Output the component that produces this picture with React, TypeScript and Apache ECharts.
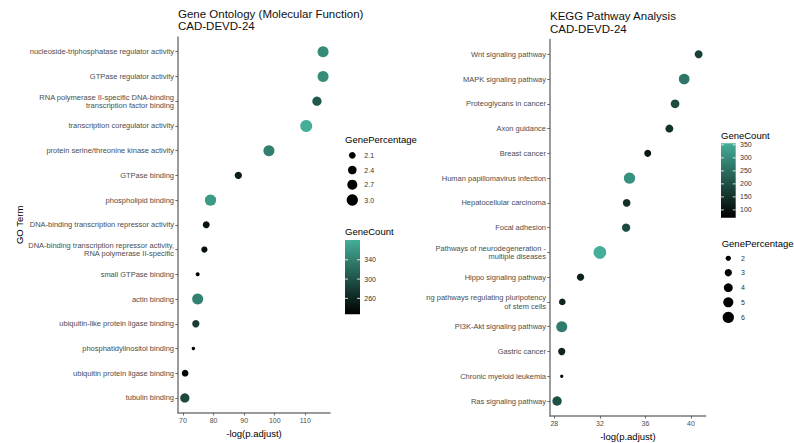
import React, { useEffect, useRef } from "react";
import * as echarts from "echarts";

// ---------- Gene Ontology (Molecular Function) ----------
const goTerms = [
  "nucleoside-triphosphatase regulator activity",
  "GTPase regulator activity",
  "RNA polymerase II-specific DNA-binding\ntranscription factor binding",
  "transcription coregulator activity",
  "protein serine/threonine kinase activity",
  "GTPase binding",
  "phospholipid binding",
  "DNA-binding transcription repressor activity",
  "DNA-binding transcription repressor activity,\nRNA polymerase II-specific",
  "small GTPase binding",
  "actin binding",
  "ubiquitin-like protein ligase binding",
  "phosphatidylinositol binding",
  "ubiquitin protein ligase binding",
  "tubulin binding",
];
const goLogP = [115.8, 115.8, 113.8, 110.3, 98.1, 88.1, 79.0, 77.6, 77.0, 74.8, 74.8, 74.2, 73.4, 70.7, 70.6];
const goCount = [350, 350, 305, 381, 340, 255, 363, 245, 240, 227, 341, 280, 228, 236, 292];
const goPct = [2.93, 2.93, 2.55, 3.18, 2.93, 2.19, 3.0, 2.14, 2.04, 1.79, 2.93, 2.19, 1.74, 2.1, 2.55];
const goXTicks = [70, 80, 90, 100, 110];
const goSizeBreaks = [2.1, 2.4, 2.7, 3.0];
const goCountTicks = [260, 300, 340];

// ---------- KEGG ----------
const keggTerms = [
  "Wnt signaling pathway",
  "MAPK signaling pathway",
  "Proteoglycans in cancer",
  "Axon guidance",
  "Breast cancer",
  "Human papillomavirus infection",
  "Hepatocellular carcinoma",
  "Focal adhesion",
  "Pathways of neurodegeneration -\nmultiple diseases",
  "Hippo signaling pathway",
  "Signaling pathways regulating pluripotency\nof stem cells",
  "PI3K-Akt signaling pathway",
  "Gastric cancer",
  "Chronic myeloid leukemia",
  "Ras signaling pathway",
];
const keggLogP = [40.67, 39.4, 38.6, 38.1, 36.2, 34.6, 34.35, 34.3, 32.0, 30.3, 28.7, 28.65, 28.65, 28.65, 28.24];
const keggCount = [175, 265, 193, 153, 105, 307, 150, 193, 356, 127, 133, 273, 130, 70, 202];
const keggPct = [3.44, 5.4, 3.9, 3.4, 2.84, 6.0, 3.2, 3.6, 7.3, 3.0, 2.65, 5.7, 3.0, 1.3, 4.4];
const keggXTicks = [28, 32, 36, 40];
const keggSizeBreaks = [2, 3, 4, 5, 6];
const keggCountTicks = [100, 150, 200, 250, 300, 350];

const FONT = '"Liberation Sans", Arial, Helvetica, sans-serif';
const LOW = "#000000";
const HIGH = "#44AE98";
const AXIS_COLOR = "#7a7a7a";
const TEXT_GREY = "#4d4d4d";

const goSize = (v: number) => Math.sqrt(Math.max(92 * v - 148.3, 6));
const keggSize = (v: number) => Math.sqrt(Math.max(25 * v - 22, 6));

function range(a: number[]) {
  return [Math.min(...a), Math.max(...a)];
}

function legendGraphics(opts: {
  sizeTitleX: number; sizeTitleY: number; sizeDotX: number; sizeLabelX: number; sizeYs: number[];
  sizeBreaks: number[]; sizeFn: (v: number) => number; sizeFmt: (v: number) => string;
  cTitleX: number; cTitleY: number; barX: number; barY: number; barW: number; barH: number;
  cMin: number; cMax: number; cTicks: number[]; cLabelX: number;
}) {
  const els: any[] = [];
  els.push({
    type: "text", x: opts.sizeTitleX, y: opts.sizeTitleY,
    style: { text: "GenePercentage", font: `9.5px ${FONT}`, fill: "#000", textVerticalAlign: "middle" },
  });
  opts.sizeBreaks.forEach((b, i) => {
    els.push({ type: "circle", shape: { cx: opts.sizeDotX, cy: opts.sizeYs[i], r: opts.sizeFn(b) / 2 }, style: { fill: "#000" } });
    els.push({
      type: "text", x: opts.sizeLabelX, y: opts.sizeYs[i],
      style: { text: opts.sizeFmt(b), font: `7px ${FONT}`, fill: "#333", textVerticalAlign: "middle" },
    });
  });
  els.push({
    type: "text", x: opts.cTitleX, y: opts.cTitleY,
    style: { text: "GeneCount", font: `9.5px ${FONT}`, fill: "#000", textVerticalAlign: "middle" },
  });
  els.push({
    type: "rect", shape: { x: opts.barX, y: opts.barY, width: opts.barW, height: opts.barH },
    style: {
      fill: new echarts.graphic.LinearGradient(0, 0, 0, 1, [
        { offset: 0, color: HIGH },
        { offset: 1, color: LOW },
      ]),
    },
  });
  opts.cTicks.forEach((t) => {
    const y = opts.barY + (opts.cMax - t) / (opts.cMax - opts.cMin) * opts.barH;
    const tl = opts.barW / 5;
    els.push({ type: "line", shape: { x1: opts.barX, y1: y, x2: opts.barX + tl, y2: y }, style: { stroke: "#fff", lineWidth: 0.8 } });
    els.push({ type: "line", shape: { x1: opts.barX + opts.barW - tl, y1: y, x2: opts.barX + opts.barW, y2: y }, style: { stroke: "#fff", lineWidth: 0.8 } });
    els.push({
      type: "text", x: opts.cLabelX, y,
      style: { text: String(t), font: `7px ${FONT}`, fill: "#333", textVerticalAlign: "middle" },
    });
  });
  return els;
}

function panelOption(p: {
  title: string; titleLeft: number; titleTop: number;
  gridLeft: number; gridTop: number; gridW: number; gridH: number;
  xMin: number; xMax: number; xTicks: number[];
  terms: string[]; xs: number[]; counts: number[]; pcts: number[];
  sizeFn: (v: number) => number; yName: string; graphic: any[];
}) {
  const [cMin, cMax] = range(p.counts);
  const idx = p.terms.map((_, i) => i);
  return {
    animation: false,
    textStyle: { fontFamily: FONT },
    title: {
      text: p.title, left: p.titleLeft, top: p.titleTop, padding: 0,
      textStyle: { fontSize: 11.5, fontWeight: "normal", color: "#111", lineHeight: 12.5, fontFamily: FONT },
    },
    grid: {
      left: p.gridLeft, top: p.gridTop, width: p.gridW, height: p.gridH,
      containLabel: false, outerBoundsMode: "none",
    },
    xAxis: {
      type: "value", min: p.xMin, max: p.xMax,
      name: "-log(p.adjust)", nameLocation: "middle", nameGap: 13,
      nameTextStyle: { fontSize: 9.5, color: "#000", fontFamily: FONT },
      axisLine: { show: true, onZero: false, lineStyle: { color: AXIS_COLOR, width: 1.5 } },
      axisTick: { show: true, length: 2.7, customValues: p.xTicks, lineStyle: { color: TEXT_GREY, width: 0.8 } },
      axisLabel: { customValues: p.xTicks, fontSize: 7, color: TEXT_GREY, margin: 4, fontFamily: FONT },
      splitLine: { show: false },
    },
    yAxis: {
      type: "value", inverse: true, min: -0.6, max: p.terms.length - 0.4,
      name: p.yName, nameLocation: "middle", nameGap: 152, nameRotate: 90,
      nameTextStyle: { fontSize: 9.5, color: "#000", fontFamily: FONT },
      axisLine: { show: true, onZero: false, lineStyle: { color: AXIS_COLOR, width: 1.5 } },
      axisTick: { show: true, length: 2.7, customValues: idx, lineStyle: { color: TEXT_GREY, width: 0.8 } },
      axisLabel: {
        customValues: idx, fontSize: 7.5, color: TEXT_GREY, margin: 4, lineHeight: 8.3, fontFamily: FONT,
        formatter: (v: number) => p.terms[Math.round(v)] ?? "",
      },
      splitLine: { show: false },
    },
    visualMap: [{
      type: "continuous", show: false, dimension: 2, seriesIndex: 0,
      min: cMin, max: cMax, inRange: { color: [LOW, HIGH] },
    }],
    series: [{
      type: "scatter",
      data: p.terms.map((_, i) => [p.xs[i], i, p.counts[i], p.pcts[i]]),
      symbolSize: (v: number[]) => p.sizeFn(v[3]),
      itemStyle: { opacity: 1 },
    }],
    graphic: p.graphic,
  };
}

export default function App() {
  const leftRef = useRef<HTMLDivElement>(null);
  const rightRef = useRef<HTMLDivElement>(null);

  useEffect(() => {
    const left = echarts.init(leftRef.current!, undefined, { renderer: "svg" });
    const right = echarts.init(rightRef.current!, undefined, { renderer: "svg" });

    const [gMin, gMax] = range(goCount);
    left.setOption(panelOption({
      title: "Gene Ontology (Molecular Function)\nCAD-DEVD-24", titleLeft: 178, titleTop: 7.5,
      gridLeft: 178, gridTop: 36.9, gridW: 152, gridH: 375.9,
      xMin: 68.37, xMax: 118.07, xTicks: goXTicks,
      terms: goTerms, xs: goLogP, counts: goCount, pcts: goPct, sizeFn: goSize, yName: "GO Term",
      graphic: legendGraphics({
        sizeTitleX: 345, sizeTitleY: 139, sizeDotX: 352.3, sizeLabelX: 364.3, sizeYs: [155.3, 170, 184.7, 200],
        sizeBreaks: goSizeBreaks, sizeFn: goSize, sizeFmt: (v) => v.toFixed(1),
        cTitleX: 345, cTitleY: 231, barX: 345, barY: 240, barW: 15, barH: 74.3,
        cMin: gMin, cMax: gMax, cTicks: goCountTicks, cLabelX: 364.3,
      }),
    }) as any);

    const OFF = 426;
    const [kMin, kMax] = range(keggCount);
    right.setOption(panelOption({
      title: "KEGG Pathway Analysis\nCAD-DEVD-24", titleLeft: 550 - OFF, titleTop: 9.8,
      gridLeft: 550 - OFF, gridTop: 39.4, gridW: 155.7, gridH: 376.5,
      xMin: 27.62, xMax: 41.29, xTicks: keggXTicks,
      terms: keggTerms, xs: keggLogP, counts: keggCount, pcts: keggPct, sizeFn: keggSize, yName: "",
      graphic: legendGraphics({
        sizeTitleX: 721.7 - OFF, sizeTitleY: 243.3, sizeDotX: 728.3 - OFF, sizeLabelX: 741 - OFF,
        sizeYs: [258.3, 272.7, 287.7, 302.3, 317.3],
        sizeBreaks: keggSizeBreaks, sizeFn: keggSize, sizeFmt: (v) => String(v),
        cTitleX: 721 - OFF, cTitleY: 135, barX: 721 - OFF, barY: 143.3, barW: 14.7, barH: 74.4,
        cMin: kMin, cMax: kMax, cTicks: keggCountTicks, cLabelX: 740 - OFF,
      }),
    }) as any);

    return () => {
      left.dispose();
      right.dispose();
    };
  }, []);

  return (
    <div style={{ position: "fixed", left: 0, top: 0, width: 794, height: 443, background: "#fff" }}>
      <div ref={leftRef} style={{ position: "absolute", left: 0, top: 0, width: 794, height: 443 }} />
      <div style={{ position: "absolute", left: 426, top: 0, width: 368, height: 443, overflow: "hidden" }}>
        <div ref={rightRef} style={{ width: 368, height: 443 }} />
      </div>
    </div>
  );
}
